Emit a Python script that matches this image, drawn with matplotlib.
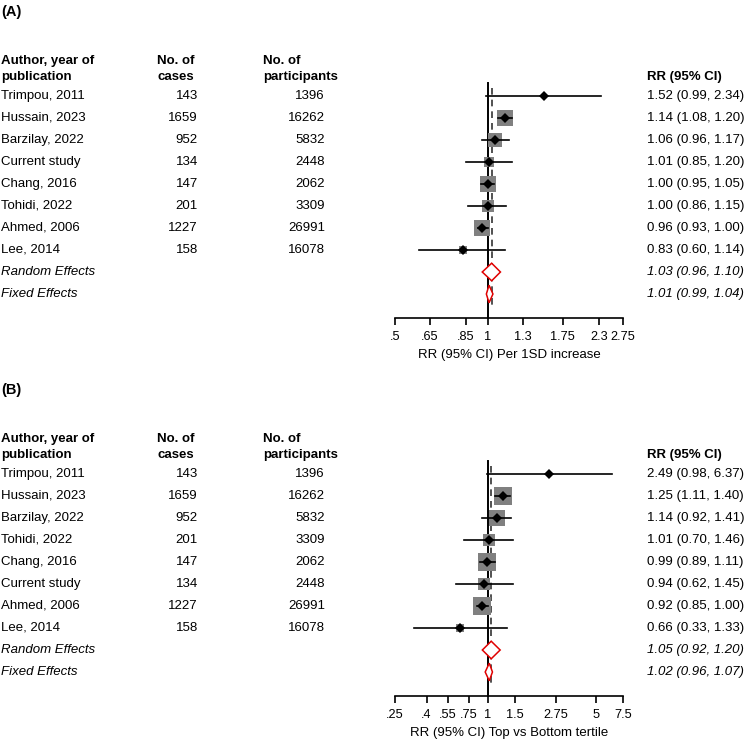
import numpy as np
import matplotlib
matplotlib.use('Agg')
import matplotlib.pyplot as plt
from matplotlib.transforms import blended_transform_factory
from matplotlib.patches import Polygon

plt.rcParams['font.family'] = ['Liberation Sans', 'DejaVu Sans']
plt.rcParams['font.size'] = 9.5

# panel A: per 1SD increase
a_study = ['Trimpou, 2011', 'Hussain, 2023', 'Barzilay, 2022', 'Current study',
           'Chang, 2016', 'Tohidi, 2022', 'Ahmed, 2006', 'Lee, 2014']
a_cases = [143, 1659, 952, 134, 147, 201, 1227, 158]
a_parts = [1396, 16262, 5832, 2448, 2062, 3309, 26991, 16078]
a_rr = [1.52, 1.14, 1.06, 1.01, 1.00, 1.00, 0.96, 0.83]
a_lo = [0.99, 1.08, 0.96, 0.85, 0.95, 0.86, 0.93, 0.60]
a_hi = [2.34, 1.20, 1.17, 1.20, 1.05, 1.15, 1.00, 1.14]
a_wt = [1.7, 17.7, 13.6, 6.9, 15.6, 10.0, 15.6, 3.9]
a_pool = [('Random Effects', 1.03, 0.96, 1.10), ('Fixed Effects', 1.01, 0.99, 1.04)]
a_ticks = [.5, .65, .85, 1, 1.3, 1.75, 2.3, 2.75]
a_ticklab = ['.5', '.65', '.85', '1', '1.3', '1.75', '2.3', '2.75']

# panel B: top vs bottom tertile
b_study = ['Trimpou, 2011', 'Hussain, 2023', 'Barzilay, 2022', 'Tohidi, 2022',
           'Chang, 2016', 'Current study', 'Ahmed, 2006', 'Lee, 2014']
b_cases = [143, 1659, 952, 201, 147, 134, 1227, 158]
b_parts = [1396, 16262, 5832, 3309, 2062, 2448, 26991, 16078]
b_rr = [2.49, 1.25, 1.14, 1.01, 0.99, 0.94, 0.92, 0.66]
b_lo = [0.98, 1.11, 0.92, 0.70, 0.89, 0.62, 0.85, 0.33]
b_hi = [6.37, 1.40, 1.41, 1.46, 1.11, 1.45, 1.00, 1.33]
b_wt = [1.7, 22.4, 17.7, 10.0, 22.4, 8.4, 22.4, 5.6]
b_pool = [('Random Effects', 1.05, 0.92, 1.20), ('Fixed Effects', 1.02, 0.96, 1.07)]
b_ticks = [.25, .4, .55, .75, 1, 1.5, 2.75, 5, 7.5]
b_ticklab = ['.25', '.4', '.55', '.75', '1', '1.5', '2.75', '5', '7.5']

W, H = 746, 748
fig = plt.figure(figsize=(W / 100, H / 100), dpi=100)


def panel(tag, top, study, cases, parts, rr, lo, hi, wt, pool, ticks, ticklab, xlabel):
    # top = pixel y of the first study row
    row_h = 22.0
    ax_top = top - row_h
    ax_bot = top + 9 * row_h + 24
    ax = fig.add_axes([395 / W, 1 - ax_bot / H, (623 - 395) / W, (ax_bot - ax_top) / H])
    ax.set_xscale('log')
    ax.set_xlim(ticks[0], ticks[-1])
    ax.set_ylim(9 + 24 / row_h, -1)
    for s in ['top', 'right', 'left']:
        ax.spines[s].set_visible(False)
    ax.spines['bottom'].set_linewidth(1.2)
    ax.set_yticks([])
    ax.set_xticks(ticks)
    ax.set_xticklabels(ticklab)
    ax.minorticks_off()
    ax.tick_params(axis='x', length=5, width=1.2, pad=4.5, labelsize=9.2)
    ax.set_xlabel(xlabel, fontsize=9.5, labelpad=4)

    n = len(study)
    rand = pool[0][1]
    ax.plot([1, 1], [-0.6, 9 + 24 / row_h], color='black', lw=1.4, clip_on=False, zorder=2)
    ax.plot([rand, rand], [-0.35, n + 1.5], color='#333333', lw=1.2,
            linestyle=(0, (4, 3)), zorder=2)

    for i in range(n):
        side = 3.8 * np.sqrt(wt[i]) * 0.72
        ax.plot(rr[i], i, marker='s', markersize=side, color='#808080',
                markeredgewidth=0, zorder=3, linestyle='none')
        ax.plot([lo[i], hi[i]], [i, i], color='black', lw=1.2, zorder=4)
        ax.plot(rr[i], i, marker='D', markersize=5.4, color='black',
                markeredgewidth=0, zorder=5, linestyle='none')

    for j, (name, est, l, h) in enumerate(pool):
        y = n + j
        d = 0.4
        poly = Polygon([[l, y], [est, y - d], [h, y], [est, y + d]], closed=True,
                       facecolor='white', edgecolor='#e00000', lw=1.1, zorder=6)
        ax.add_patch(poly)

    tr = blended_transform_factory(fig.transFigure, ax.transData)
    hy = -27 / row_h
    fig.text(1 / W, 1 - (top - 84) / H, tag, fontsize=10.5, fontweight='bold', va='center')
    ax.text(1 / W, hy, 'Author, year of\npublication', transform=tr, fontweight='bold',
            va='center', ha='left', linespacing=1.45)
    ax.text(157 / W, hy, 'No. of\ncases', transform=tr, fontweight='bold',
            va='center', ha='left', linespacing=1.45)
    ax.text(263 / W, hy, 'No. of\nparticipants', transform=tr, fontweight='bold',
            va='center', ha='left', linespacing=1.45)
    ax.text(647 / W, hy + 0.38, 'RR (95% CI)', transform=tr, fontweight='bold',
            va='center', ha='left')

    for i in range(n):
        ax.text(1 / W, i, study[i], transform=tr, va='center', ha='left')
        ax.text(198 / W, i, str(cases[i]), transform=tr, va='center', ha='right')
        ax.text(325 / W, i, str(parts[i]), transform=tr, va='center', ha='right')
        ax.text(647 / W, i, '%.2f (%.2f, %.2f)' % (rr[i], lo[i], hi[i]), transform=tr,
                va='center', ha='left')
    for j, (name, est, l, h) in enumerate(pool):
        ax.text(1 / W, n + j, name, transform=tr, va='center', ha='left', style='italic')
        ax.text(647 / W, n + j, '%.2f (%.2f, %.2f)' % (est, l, h), transform=tr,
                va='center', ha='left', style='italic')
    return ax


panel('(A)', 96, a_study, a_cases, a_parts, a_rr, a_lo, a_hi, a_wt, a_pool,
      a_ticks, a_ticklab, 'RR (95% CI) Per 1SD increase')
panel('(B)', 474, b_study, b_cases, b_parts, b_rr, b_lo, b_hi, b_wt, b_pool,
      b_ticks, b_ticklab, 'RR (95% CI) Top vs Bottom tertile')

fig.savefig('out.png', dpi=100)
